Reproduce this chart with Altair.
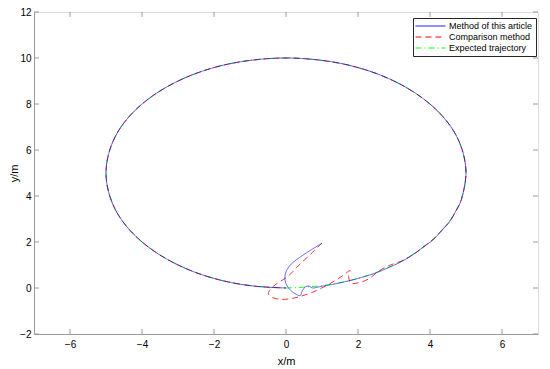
import altair as alt
import pandas as pd

series_names = ["Method of this article", "Comparison method", "Expected trajectory"]
series_colors = ["#0000ff", "#ff0000", "#00ff00"]
series_dash = [[1, 0], [6, 4], [6, 3, 1, 3]]
series_opacity = [0.6, 0.8, 0.9]

# Expected trajectory (circle around (0,5), radius 5)
expected_x = [0.00, 0.87, 1.71, 2.50, 3.21, 3.83, 4.33, 4.70, 4.92, 5.00, 4.92, 4.70, 4.33,
              3.83, 3.21, 2.50, 1.71, 0.87, 0.00, -0.87, -1.71, -2.50, -3.21, -3.83, -4.33,
              -4.70, -4.92, -5.00, -4.92, -4.70, -4.33, -3.83, -3.21, -2.50, -1.71, -0.87, 0.00]
expected_y = [0.00, 0.08, 0.30, 0.67, 1.17, 1.79, 2.50, 3.29, 4.13, 5.00, 5.87, 6.71, 7.50,
              8.21, 8.83, 9.33, 9.70, 9.92, 10.00, 9.92, 9.70, 9.33, 8.83, 8.21, 7.50,
              6.71, 5.87, 5.00, 4.13, 3.29, 2.50, 1.79, 1.17, 0.67, 0.30, 0.08, 0.00]

# Method of this article
method_x = [1.00, 0.67, 0.39, 0.16, 0.02, -0.03, 0.00, 0.11, 0.25, 0.39, 0.46, 0.55, 0.64,
            0.74, 0.86, 1.05, 1.30, 1.71, 2.10, 2.50, 2.88, 3.21, 3.55, 3.83, 4.12, 4.33,
            4.55, 4.70, 4.84, 4.92, 5.00, 4.92, 4.70, 4.33, 3.83, 3.21, 2.50, 1.71, 0.87,
            0.00, -0.87, -1.71, -2.50, -3.21, -3.83, -4.33, -4.70, -4.92, -5.00, -4.92,
            -4.70, -4.33, -3.83, -3.21, -2.50, -1.71, -0.87, 0.00]
method_y = [1.95, 1.63, 1.34, 1.06, 0.77, 0.48, 0.19, -0.07, -0.24, -0.33, -0.10, 0.06, 0.08,
            0.00, 0.03, 0.09, 0.16, 0.30, 0.46, 0.66, 0.91, 1.15, 1.48, 1.80, 2.14, 2.52,
            2.90, 3.30, 3.70, 4.13, 5.00, 5.87, 6.71, 7.50, 8.21, 8.83, 9.33, 9.70, 9.92,
            10.00, 9.92, 9.70, 9.33, 8.83, 8.21, 7.50, 6.71, 5.87, 5.00, 4.13,
            3.29, 2.50, 1.79, 1.17, 0.67, 0.30, 0.08, 0.00]

# Comparison method
comp_x = [1.00, 0.67, 0.35, 0.05, -0.26, -0.44, -0.49, -0.40, -0.17, 0.11, 0.34, 0.76, 1.22,
          1.59, 1.78, 1.74, 1.80, 2.00, 2.30, 2.60, 2.90, 3.21, 3.55, 3.83, 4.12, 4.33, 4.55,
          4.70, 4.84, 4.92, 5.00, 4.92, 4.70, 4.33, 3.83, 3.21, 2.50, 1.71, 0.87, 0.00,
          -0.87, -1.71, -2.50, -3.21, -3.83, -4.33, -4.70, -4.92, -5.00, -4.92, -4.70,
          -4.33, -3.83, -3.21, -2.50, -1.71, -0.87, 0.00]
comp_y = [1.95, 1.45, 0.98, 0.50, 0.19, -0.07, -0.24, -0.39, -0.49, -0.47, -0.39, -0.17, 0.19,
          0.55, 0.76, 0.50, 0.22, 0.22, 0.40, 0.76, 1.00, 1.17, 1.47, 1.80, 2.16, 2.50, 2.90,
          3.29, 3.72, 4.13, 5.00, 5.87, 6.71, 7.50, 8.21, 8.83, 9.33, 9.70, 9.92, 10.00,
          9.92, 9.70, 9.33, 8.83, 8.21, 7.50, 6.71, 5.87, 5.00, 4.13, 3.29,
          2.50, 1.79, 1.17, 0.67, 0.30, 0.08, 0.00]

x_ticks = [-6, -4, -2, 0, 2, 4, 6]
y_ticks = [-2, 0, 2, 4, 6, 8, 10, 12]

W, H = 504, 322
GRAY = "#9a9a9a"
FONT = "Liberation Sans"

rows = []
for name, xs_, ys_ in [(series_names[0], method_x, method_y),
                       (series_names[1], comp_x, comp_y),
                       (series_names[2], expected_x, expected_y)]:
    for i, (a, b) in enumerate(zip(xs_, ys_)):
        rows.append({"series": name, "i": i, "x": a, "y": b})
df = pd.DataFrame(rows)

xscale = alt.Scale(domain=[-7, 7], nice=False, zero=False)
yscale = alt.Scale(domain=[-2, 12], nice=False, zero=False)
x_axis = alt.Axis(title="x/m", values=x_ticks, grid=False, ticks=False, labelPadding=5,
                  titlePadding=6, domainColor=GRAY, titleFontWeight=400)
y_axis = alt.Axis(title="y/m", values=y_ticks, grid=False, ticks=False, labelPadding=3,
                  titlePadding=0, domainColor=GRAY, titleFontWeight=400)

legend = alt.Legend(title=None, orient="none", legendX=379, legendY=6,
                    symbolType="M-3.33,0H3.33", symbolSize=81, symbolOffset=9.5,
                    labelOffset=13.5, padding=3, rowPadding=1, strokeColor="#262626",
                    fillColor="white", labelFontSize=9, labelFont=FONT,
                    labelColor="#000000", symbolStrokeWidth=1)

color = alt.Color("series:N", scale=alt.Scale(domain=series_names, range=series_colors),
                  legend=legend)
dash = alt.StrokeDash("series:N", scale=alt.Scale(domain=series_names, range=series_dash),
                      legend=legend)


def series_line(name, opacity):
    return alt.Chart(df).transform_filter(alt.datum.series == name).mark_line(
        strokeWidth=1, strokeOpacity=opacity, interpolate="catmull-rom").encode(
        x=alt.X("x:Q", scale=xscale, axis=x_axis),
        y=alt.Y("y:Q", scale=yscale, axis=y_axis),
        color=color,
        strokeDash=dash,
        order="i:Q",
    )


# draw expected first, comparison next, method on top
lines = [series_line(series_names[k], series_opacity[k]) for k in (2, 1, 0)]

xt = alt.Chart(pd.DataFrame({"t": x_ticks}))
yt = alt.Chart(pd.DataFrame({"t": y_ticks}))
tick_bottom = xt.mark_rule(color=GRAY, strokeWidth=1).encode(
    x=alt.X("t:Q", scale=xscale, axis=x_axis), y=alt.value(H), y2=alt.value(H - 5))
tick_top = xt.mark_rule(color=GRAY, strokeWidth=1).encode(
    x=alt.X("t:Q", scale=xscale, axis=x_axis), y=alt.value(0), y2=alt.value(5))
tick_left = yt.mark_rule(color=GRAY, strokeWidth=1).encode(
    y=alt.Y("t:Q", scale=yscale, axis=y_axis), x=alt.value(0), x2=alt.value(5))
tick_right = yt.mark_rule(color=GRAY, strokeWidth=1).encode(
    y=alt.Y("t:Q", scale=yscale, axis=y_axis), x=alt.value(W), x2=alt.value(W - 5))

chart = alt.layer(tick_bottom, tick_top, tick_left, tick_right, *lines).properties(
    width=W, height=H,
    autosize=alt.AutoSizeParams(type="none"),
    padding={"left": 26, "top": 4, "right": 4, "bottom": 34},
).configure_view(stroke=GRAY, strokeWidth=1).configure_axis(
    labelFont=FONT, titleFont=FONT, labelFontSize=10, titleFontSize=10.5,
    labelColor="#333333", titleColor="#222222",
).configure(background="white")

chart.save("out.html", embed_options={"renderer": "svg", "actions": False})
